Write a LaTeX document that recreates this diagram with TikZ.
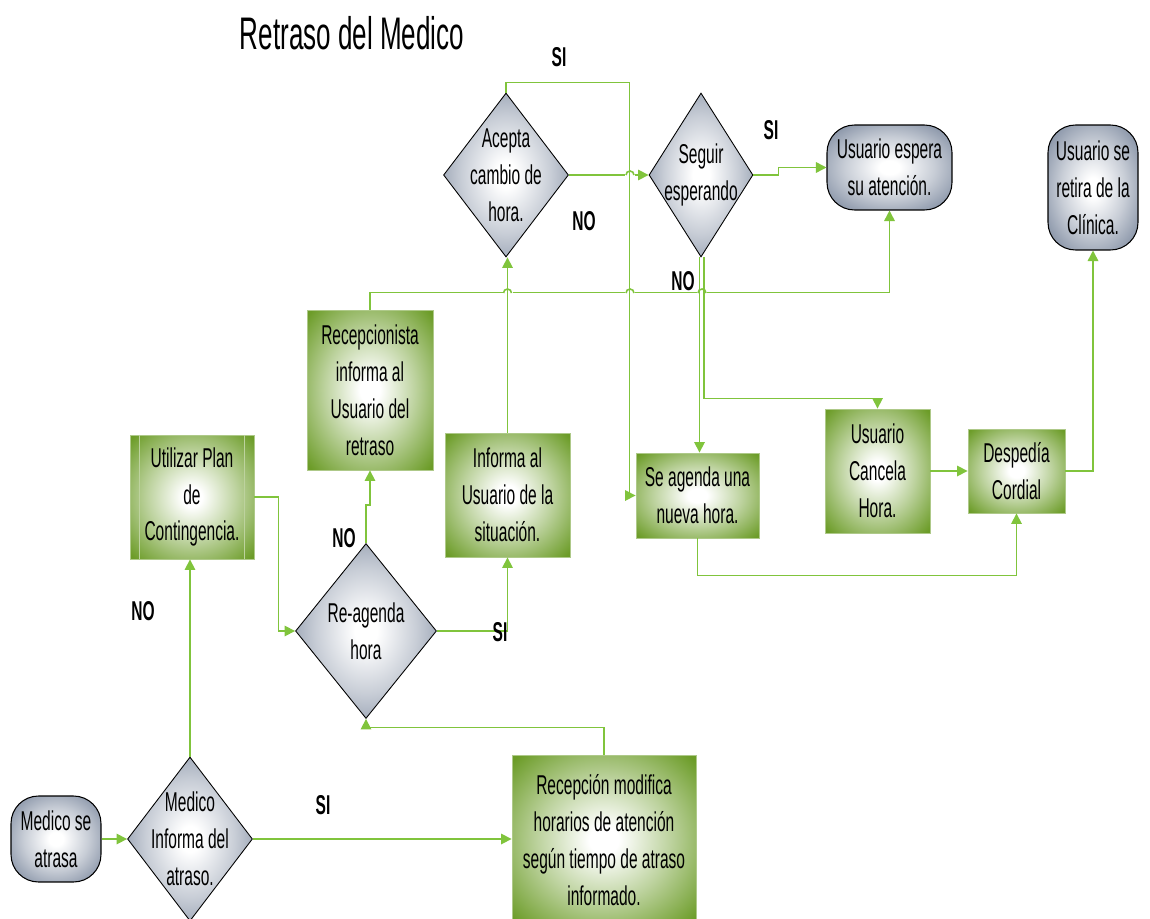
\documentclass[tikz,border=0pt]{standalone}
\usepackage{fontspec}
\setmainfont{Liberation Sans}[FakeStretch=0.57]
\usetikzlibrary{shapes.geometric,arrows.meta,calc}
\definecolor{boxgreen}{RGB}{108,156,40}
\definecolor{linegreen}{RGB}{128,196,60}
\definecolor{slate}{RGB}{132,144,164}
\pgfdeclareradialshading{greenglow}{\pgfpoint{0bp}{0bp}}{color(0bp)=(white); color(4bp)=(white); color(18bp)=(boxgreen!45!white); color(34bp)=(boxgreen); color(50bp)=(boxgreen)}
\pgfdeclareradialshading{grayglow}{\pgfpoint{0bp}{0bp}}{color(0bp)=(white); color(4bp)=(white); color(18bp)=(slate!45!white); color(32bp)=(slate); color(50bp)=(slate)}
\newcommand\boxfont{\fontsize{15.5}{21}\selectfont}
% line jump: white gap plus small arc over the crossing
\def\hop(#1,#2){ \fill[white] (#1-5,#2-1.5) rectangle (#1+5,#2+1.5);
	\draw[link] (#1-4,#2) arc (180:360:4); }
\tikzset{
	link/.style={draw=linegreen,line width=0.9pt},
	greenbox/.style={rectangle,shading=greenglow,draw=boxgreen!55,line width=0.5pt,align=center,inner sep=0pt},
	grayend/.style={rectangle,rounded corners=0.55cm,shading=grayglow,draw=black,line width=0.6pt,align=center,inner sep=0pt},
	decision/.style={diamond,shading=grayglow,draw=black,line width=0.5pt,inner sep=0pt},
	answer/.style={font=\boxfont\bfseries},
}

\begin{document}
\begin{tikzpicture}[x=0.02cm,y=-0.02cm,font=\boxfont,>={Triangle[length=6pt,width=6pt]}]
	\useasboundingbox[fill=white] (0,0) rectangle (1150,919);
	\node[font=\fontsize{26}{30}\selectfont] (title) at (352,33) {Retraso del Medico};
	% shapes
	\node[grayend,minimum width=1.8cm,minimum height=1.72cm] (start) at (56,839) {Medico se\\atrasa};
	\node[decision,minimum width=2.5cm,minimum height=3.28cm,label={[align=center]center:{Medico\\Informa del\\atraso.}}] (inform) at (190,839) {};
	\node[greenbox,minimum width=2.48cm,minimum height=2.48cm] (plan) at (192,497) {Utilizar Plan\\de\\Contingencia.};
	\draw[boxgreen!45,line width=0.8pt] ([xshift=0.2cm]plan.north west) -- ([xshift=0.2cm]plan.south west);
	\draw[boxgreen!45,line width=0.8pt] ([xshift=-0.2cm]plan.north east) -- ([xshift=-0.2cm]plan.south east);
	\node[decision,minimum width=2.82cm,minimum height=3.5cm,label={[align=center]center:{Re-agenda\\hora}}] (reagenda) at (366,631) {};
	\node[greenbox,minimum width=2.52cm,minimum height=3.2cm] (recep) at (370,390) {Recepcionista\\informa al\\Usuario del\\retraso};
	\node[greenbox,minimum width=2.5cm,minimum height=2.48cm] (info) at (507.5,495) {Informa al\\Usuario de la\\situación.};
	\node[decision,minimum width=2.5cm,minimum height=3.28cm,label={[align=center]center:{Acepta\\cambio de\\hora.}}] (accept) at (506,175) {};
	\node[decision,minimum width=2.08cm,minimum height=3.28cm,label={[align=center]center:{Seguir\\esperando}}] (keepwait) at (701,175) {};
	\node[grayend,minimum width=2.5cm,minimum height=1.7cm] (wait) at (889.5,167.5) {Usuario espera\\su atención.};
	\node[grayend,minimum width=1.8cm,minimum height=2.5cm] (leave) at (1093,187.5) {Usuario se\\retira de la\\Clínica.};
	\node[greenbox,minimum width=2.46cm,minimum height=1.7cm] (newh) at (697.5,495.5) {Se agenda una\\nueva hora.};
	\node[greenbox,minimum width=2.1cm,minimum height=2.48cm] (cancel) at (877.5,471) {Usuario\\Cancela\\Hora.};
	\node[greenbox,minimum width=1.94cm,minimum height=1.68cm] (bye) at (1016.5,471) {Despedía\\Cordial};
	\node[greenbox,minimum width=3.68cm,minimum height=3.4cm] (modif) at (604,840) {Recepción modifica\\horarios de atención\\según tiempo de atraso\\informado.};
	% connectors
	\coordinate (nosplit) at ([xshift=-0.03cm]keepwait.south);
	\draw[link,->] (start.east) -- (inform.west);
	\draw[link,->] (inform.north) -- (inform.north |- plan.south);
	\draw[link,->] (inform.east) -- (inform.east -| modif.west);
	\draw[link,->] (modif.north) -- ++(0,-27) -| (reagenda.south);
	\draw[link,->] (plan.east) -- ++(24,0) |- (reagenda.west);
	\draw[link,->] (reagenda.north) -- ++(0,-38) -| (recep.south);
	\draw[link,->] (reagenda.east) -| (info.south);
	\draw[link,->] (recep.north) -- ++(0,-17) -| (wait.south);
	\draw[link,->] (accept.east) -- (keepwait.west);
	\hop(507.5,293)
	\hop(630,293)
	\hop(702,293)
	\hop(630,175)
	\draw[link,->] (info.north) -- (info.north |- accept.south);
	\draw[link,->] (accept.north) -- ++(0,-10) -| ($(newh.west)+(-6,0)$) -- (newh.west);
	\draw[link,->] (keepwait.east) -- ++(25,0) |- (wait.west);
	\draw[link,->] (nosplit) -- (nosplit |- newh.north);
	\draw[link,->] ([xshift=0.06cm]keepwait.south) -- ++(0,141) -| (cancel.north);
	\draw[link,->] (cancel.east) -- (bye.west);
	\draw[link,->] (newh.south) -- ++(0,37) -| (bye.south);
	\draw[link,->] (bye.east) -| (leave.south);
	% answers
	\node[answer] (si1) at (559,57) {SI};
	\node[answer] (si2) at (771,130) {SI};
	\node[answer] (no1) at (584,221) {NO};
	\node[answer] (no2) at (683,281) {NO};
	\node[answer] (no3) at (344,538) {NO};
	\node[answer] (si3) at (500,632) {SI};
	\node[answer] (no4) at (143,611) {NO};
	\node[answer] (si4) at (323,805) {SI};
\end{tikzpicture}
\end{document}
